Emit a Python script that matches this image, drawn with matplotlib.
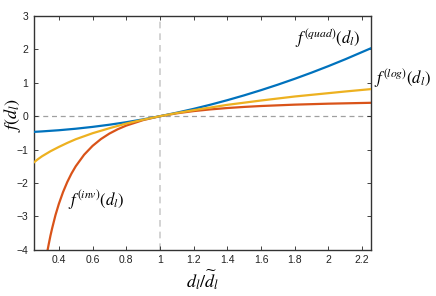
import numpy as np
import matplotlib
matplotlib.use("Agg")
import matplotlib.pyplot as plt

# values
x_quad = [0.25, 0.3, 0.4, 0.5, 0.6, 0.7, 0.8, 0.9, 1.0, 1.1, 1.2, 1.3, 1.4, 1.5,
          1.6, 1.7, 1.8, 1.9, 2.0, 2.1, 2.25]
f_quad = [-0.47, -0.455, -0.42, -0.375, -0.32, -0.255, -0.18, -0.095, 0.0, 0.105,
          0.22, 0.345, 0.48, 0.625, 0.78, 0.945, 1.12, 1.305, 1.5, 1.705, 2.03]

x_log = [0.25, 0.275, 0.3, 0.35, 0.4, 0.45, 0.5, 0.6, 0.7, 0.8, 0.9, 1.0, 1.1, 1.2,
         1.3, 1.4, 1.5, 1.6, 1.7, 1.8, 1.9, 2.0, 2.1, 2.25]
f_log = [-1.39, -1.29, -1.20, -1.05, -0.92, -0.80, -0.69, -0.51, -0.36, -0.22,
         -0.105, 0.0, 0.095, 0.18, 0.26, 0.34, 0.405, 0.47, 0.53, 0.59, 0.64,
         0.69, 0.74, 0.81]

x_inv = [0.33, 0.34, 0.35, 0.36, 0.375, 0.38, 0.4, 0.425, 0.45, 0.475, 0.5, 0.55,
         0.6, 0.65, 0.7, 0.75, 0.8, 0.9, 1.0, 1.1, 1.2, 1.3, 1.4, 1.5, 1.6, 1.8,
         2.0, 2.25]
f_inv = [-4.09, -3.83, -3.58, -3.36, -3.06, -2.96, -2.625, -2.27, -1.97, -1.716,
         -1.5, -1.153, -0.889, -0.683, -0.52, -0.389, -0.281, -0.117, 0.0, 0.087,
         0.153, 0.204, 0.245, 0.278, 0.305, 0.346, 0.375, 0.401]

xticks = [0.4, 0.6, 0.8, 1, 1.2, 1.4, 1.6, 1.8, 2, 2.2]
xticklabels = ["0.4", "0.6", "0.8", "1", "1.2", "1.4", "1.6", "1.8", "2", "2.2"]
yticks = [-4, -3, -2, -1, 0, 1, 2, 3]

plt.rcParams['font.family'] = ['Liberation Sans', 'DejaVu Sans']
plt.rcParams['mathtext.fontset'] = 'stix'

fig = plt.figure(figsize=(4.36, 2.96), dpi=100)
ax = fig.add_axes([0.077, 0.156, 0.773, 0.790])

ax.axhline(0, color='#a0a0a0', lw=0.9, ls=(0, (4, 3)), zorder=1)
ax.axvline(1, color='#cccccc', lw=1.2, ls=(0, (4, 3)), zorder=1)

ax.plot(x_quad, f_quad, color='#0072BD', lw=1.6, zorder=3)
ax.plot(x_log, f_log, color='#EDB120', lw=1.6, zorder=3)
ax.plot(x_inv, f_inv, color='#D95319', lw=1.6, zorder=2)

ax.set_xlim(0.25, 2.25)
ax.set_ylim(-4, 3)
ax.set_xticks(xticks)
ax.set_xticklabels(xticklabels)
ax.set_yticks(yticks)
ax.tick_params(direction='in', top=True, right=True, length=3, width=0.6,
               labelsize=7.5, colors='#222222', pad=4)
for s in ax.spines.values():
    s.set_linewidth(1.0)
    s.set_color('#333333')

ax.set_xlabel(r'$d_l/\widetilde{d}_l$', fontsize=13, labelpad=2)
ax.set_ylabel(r'$f(d_l)$', fontsize=13)
ax.yaxis.set_label_coords(-0.031, 0.575)

ax.text(1.80, 2.33, r'$f^{(quad)}(d_l)$', fontsize=12, va='center', ha='left')
ax.text(2.27, 1.14, r'$f^{(log)}(d_l)$', fontsize=12, va='center', ha='left',
        clip_on=False)
ax.text(0.455, -2.52, r'$f^{(inv)}(d_l)$', fontsize=12, va='center', ha='left')

fig.savefig('out.png', dpi=100)
